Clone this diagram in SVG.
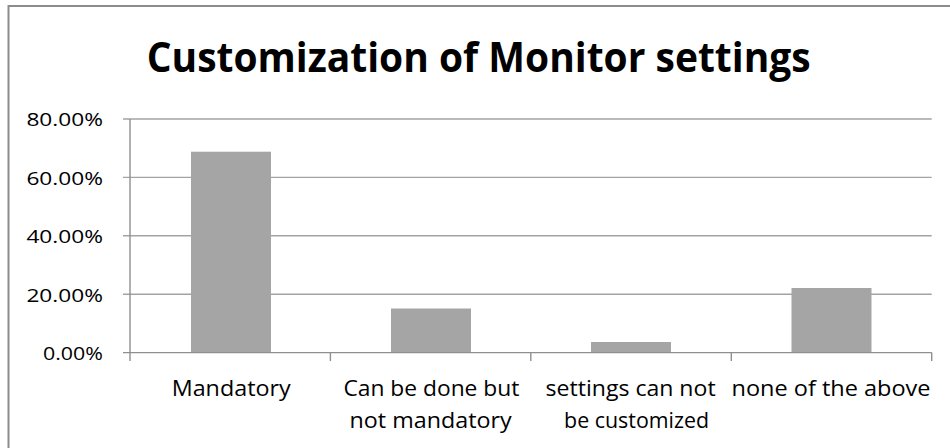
<svg xmlns="http://www.w3.org/2000/svg" width="950" height="448" viewBox="0 0 950 448">
  <style>
    .frame { fill: #ffffff; stroke: #8c8c8c; stroke-width: 2; }
    .grid { stroke: #a3a3a3; stroke-width: 1.4; fill: none; }
    .axis { stroke: #8f8f8f; stroke-width: 1.4; fill: none; }
    .bar { fill: #a5a5a5; }
    .title { font-family: "Open Sans", "Liberation Sans", sans-serif; font-weight: 700; font-size: 40.5px; fill: #000000; }
    .ylab { font-family: "Open Sans", "Liberation Sans", sans-serif; font-size: 18.6px; fill: #000000; text-anchor: end; }
    .xlab { font-family: "Open Sans", "Liberation Sans", sans-serif; font-size: 22px; fill: #000000; text-anchor: middle; }
  </style>

  <rect width="950" height="448" fill="#ffffff"/>
  <!-- chart area frame (runs past the right and bottom edges) -->
  <rect class="frame" x="8.5" y="6" width="960" height="460"/>

  <g id="title">
    <text class="title" x="146.7" y="71.7" textLength="664" lengthAdjust="spacingAndGlyphs">Customization of Monitor settings</text>
  </g>

  <!-- horizontal gridlines with left tick marks -->
  <g id="gridlines">
    <line class="grid" x1="123" y1="119" x2="931.7" y2="119"/>
    <line class="grid" x1="123" y1="177.4" x2="931.7" y2="177.4"/>
    <line class="grid" x1="123" y1="235.8" x2="931.7" y2="235.8"/>
    <line class="grid" x1="123" y1="294.2" x2="931.7" y2="294.2"/>
  </g>

  <g id="value-axis">
    <line class="axis" x1="130" y1="119" x2="130" y2="361"/>
    <text class="ylab" x="103" y="126.3" textLength="76.6" lengthAdjust="spacingAndGlyphs">80.00%</text>
    <text class="ylab" x="103" y="184.7" textLength="76.6" lengthAdjust="spacingAndGlyphs">60.00%</text>
    <text class="ylab" x="103" y="243.1" textLength="76.6" lengthAdjust="spacingAndGlyphs">40.00%</text>
    <text class="ylab" x="103" y="301.5" textLength="76.6" lengthAdjust="spacingAndGlyphs">20.00%</text>
    <text class="ylab" x="103" y="359.9" textLength="60" lengthAdjust="spacingAndGlyphs">0.00%</text>
  </g>

  <g id="bars">
    <g id="bar-mandatory"><rect class="bar" x="191" y="151.7" width="80" height="200.8"/></g>
    <g id="bar-optional"><rect class="bar" x="391" y="308.5" width="80" height="44"/></g>
    <g id="bar-fixed"><rect class="bar" x="591" y="342" width="80" height="10.5"/></g>
    <g id="bar-none"><rect class="bar" x="791.5" y="288" width="80" height="64.5"/></g>
  </g>

  <g id="category-axis">
    <line class="axis" x1="123" y1="352.6" x2="931.7" y2="352.6"/>
    <line class="axis" x1="330.4" y1="352.6" x2="330.4" y2="361"/>
    <line class="axis" x1="530.8" y1="352.6" x2="530.8" y2="361"/>
    <line class="axis" x1="731.3" y1="352.6" x2="731.3" y2="361"/>
    <line class="axis" x1="931.7" y1="352.6" x2="931.7" y2="361"/>
    <text class="xlab" x="231.2" y="396" textLength="119" lengthAdjust="spacingAndGlyphs">Mandatory</text>
    <text class="xlab" x="431.4" y="396" textLength="176" lengthAdjust="spacingAndGlyphs">Can be done but</text>
    <text class="xlab" x="430.6" y="428.3" textLength="162" lengthAdjust="spacingAndGlyphs">not mandatory</text>
    <text class="xlab" x="630.6" y="396" textLength="170" lengthAdjust="spacingAndGlyphs">settings can not</text>
    <text class="xlab" x="636.6" y="428.3" textLength="145" lengthAdjust="spacingAndGlyphs">be customized</text>
    <text class="xlab" x="831" y="396" textLength="199" lengthAdjust="spacingAndGlyphs">none of the above</text>
  </g>
</svg>
